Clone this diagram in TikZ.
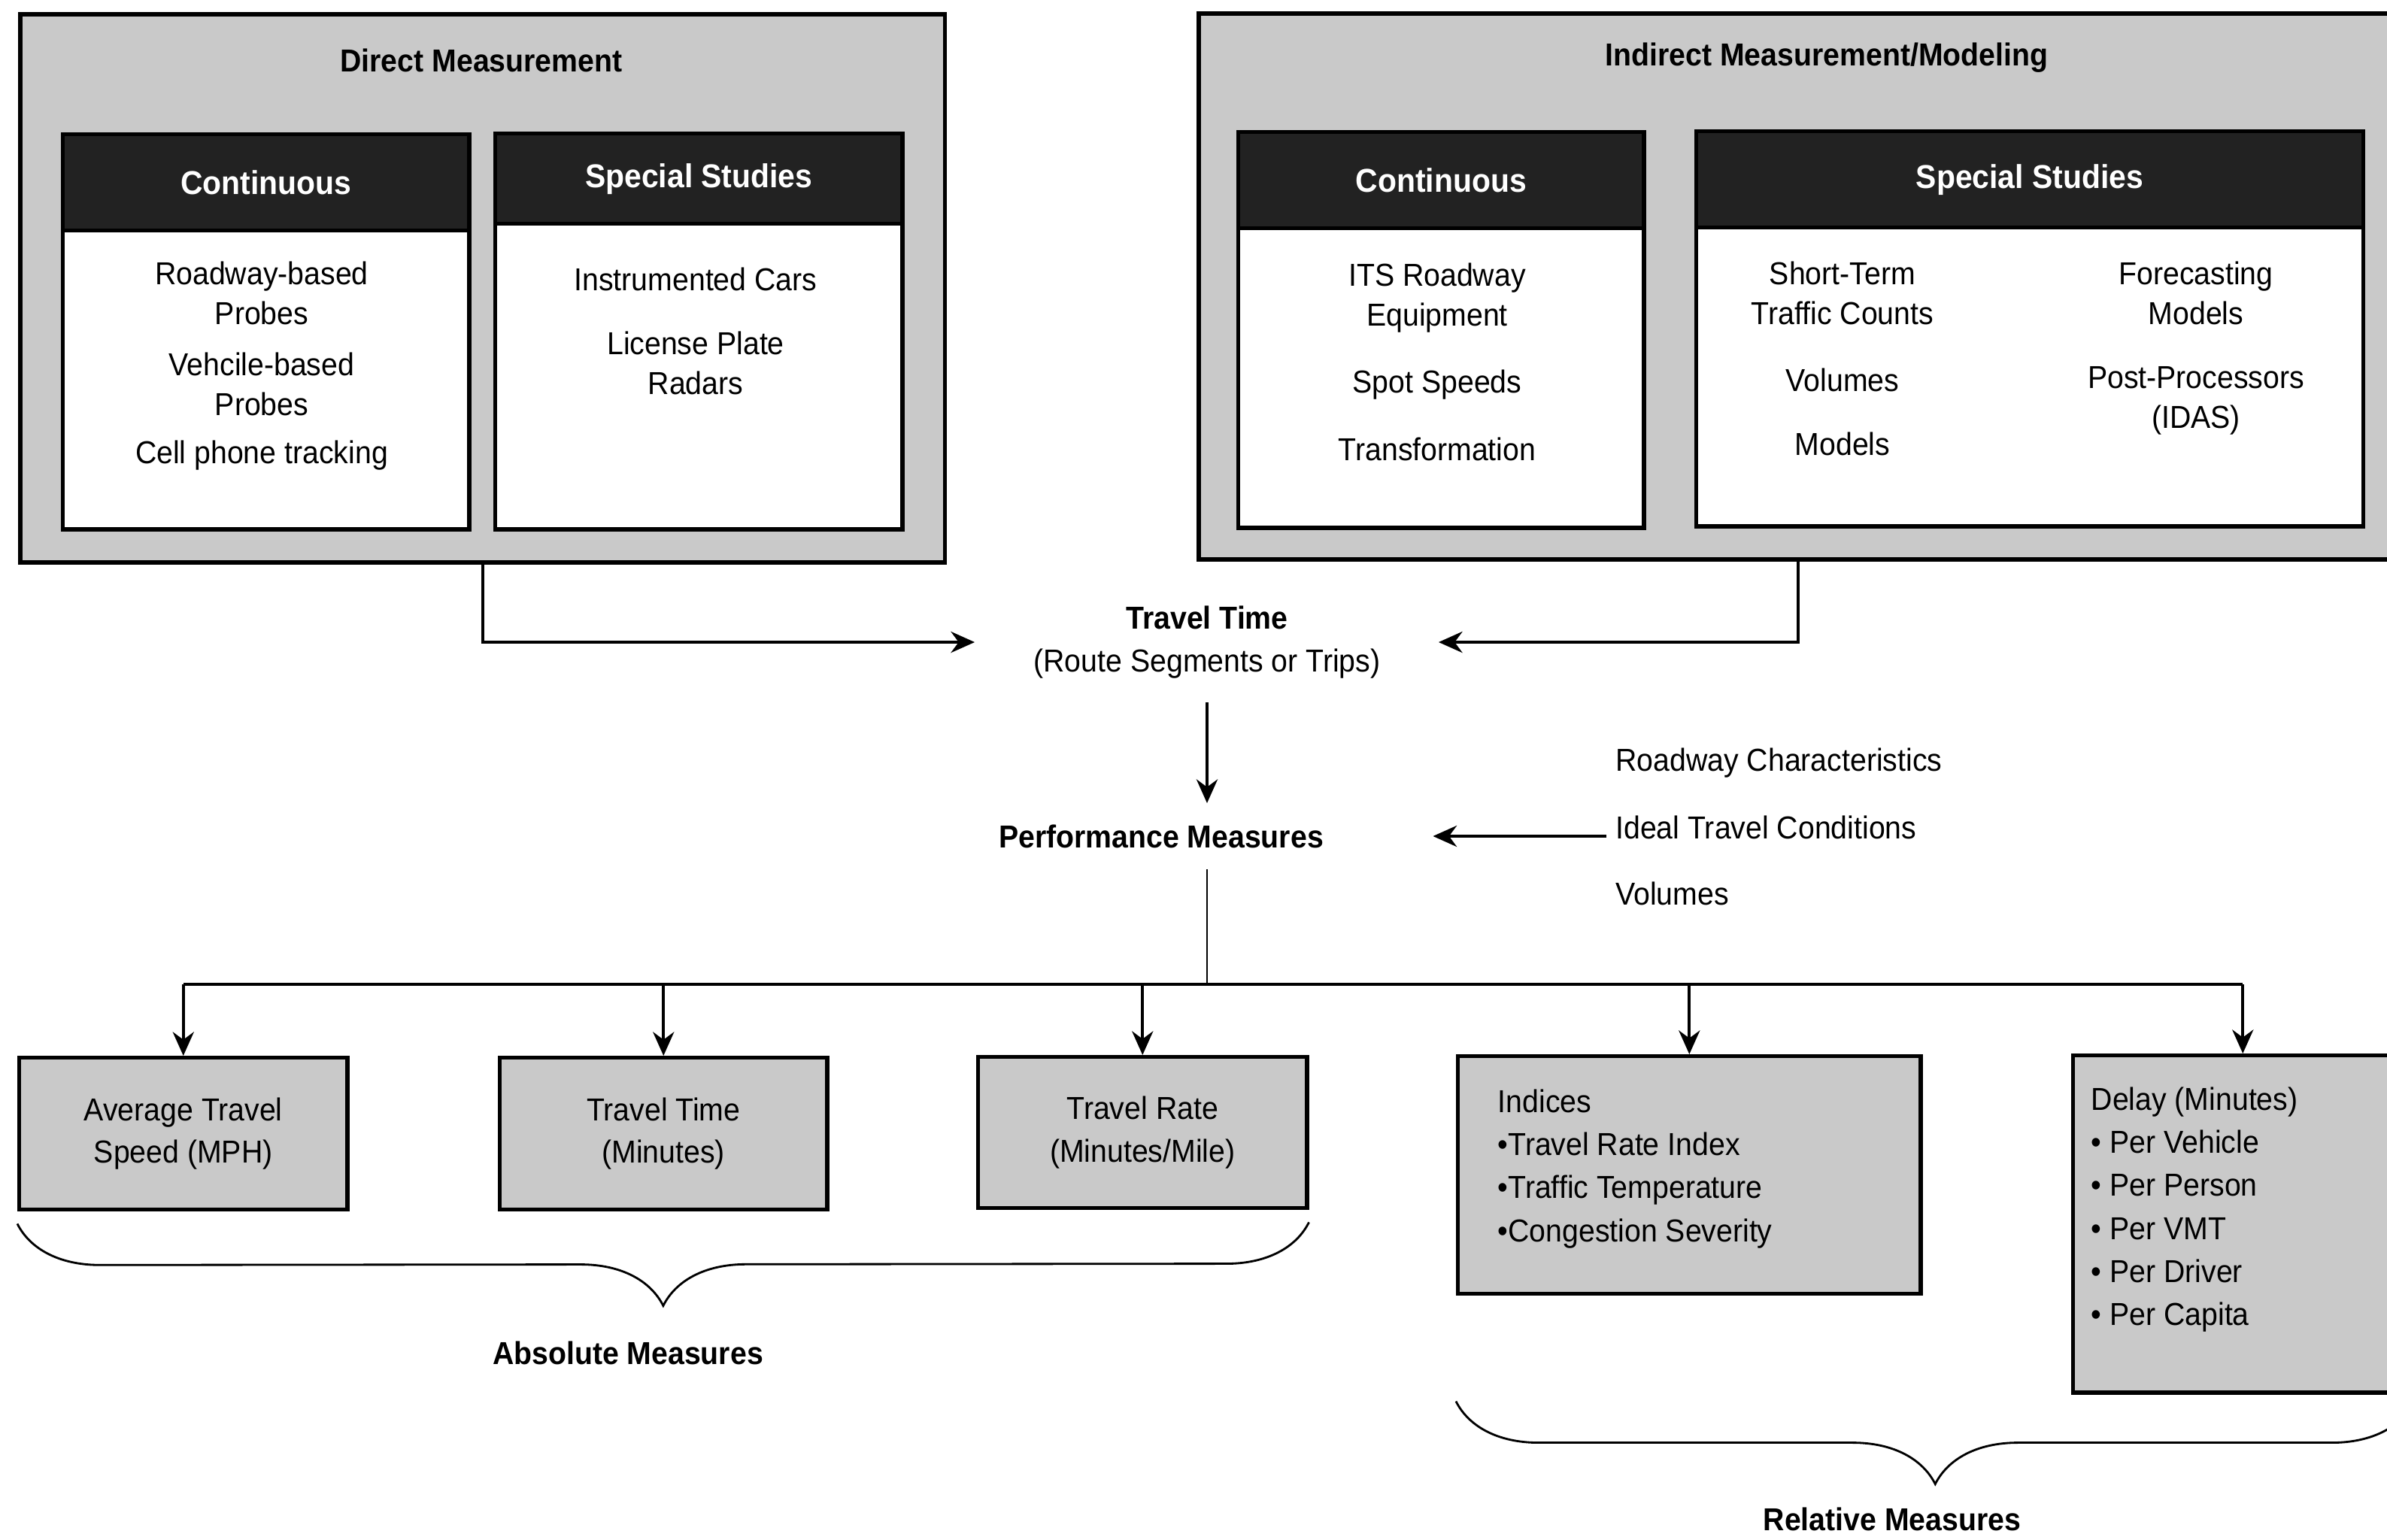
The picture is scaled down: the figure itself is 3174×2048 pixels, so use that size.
\documentclass[tikz,border=0pt]{standalone}
\usepackage{fontspec}
\setmainfont[FakeStretch=0.93]{Liberation Sans}
\definecolor{BoxGray}{HTML}{C9C9C9}
\definecolor{HeadBlack}{HTML}{222222}
\usetikzlibrary{arrows.meta, positioning, decorations.pathreplacing}

\begin{document}
\begin{tikzpicture}[
  x=0.01cm, y=-0.01cm,
  groupbox/.style={rectangle, draw, line width=1.6pt, fill=BoxGray, anchor=north west, inner sep=0pt},
  panel/.style={rectangle, draw, line width=1.5pt, fill=white, anchor=north west, inner sep=0pt},
  headbar/.style={rectangle, draw, line width=1.5pt, fill=HeadBlack, text=white, anchor=north,
    inner sep=0pt, font=\fontsize{12.5}{15}\selectfont\bfseries},
  entry/.style={align=center, font=\fontsize{12}{15}\selectfont},
  heading/.style={font=\fontsize{12}{15}\selectfont\bfseries},
  measure/.style={rectangle, draw, line width=1.5pt, fill=BoxGray, anchor=north west,
    inner sep=0pt, align=center, font=\fontsize{12}{16}\selectfont},
  bullets/.style={anchor=north west, align=left, inner sep=0pt, font=\fontsize{12}{16.3}\selectfont},
  link/.style={line width=1.1pt},
  curly/.style={decorate, decoration={brace, amplitude=1.1cm}, line width=0.8pt},
  >={Stealth[length=9pt, width=8pt]}
]
  \useasboundingbox (0,0) rectangle (3174,2048);
  \clip (0,0) rectangle (3174,2048);

  \node[groupbox, minimum width=12.29cm, minimum height=7.29cm] (direct) at (24,16) {};
  \node[heading] (directT) at (640,80) {Direct Measurement};
  \node[panel, minimum width=5.40cm, minimum height=5.25cm] (dcont) at (81,176) {};
  \node[headbar, minimum width=5.40cm, minimum height=1.28cm] (dcontH) at (dcont.north) {Continuous};
  \node[entry] (dc1) at (348,390) {Roadway-based\\Probes};
  \node[entry] (dc2) at (348,511) {Vehcile-based\\Probes};
  \node[entry] (dc3) at (348,606) {Cell phone tracking};
  \node[panel, minimum width=5.41cm, minimum height=5.26cm] (dspec) at (656,175) {};
  \node[headbar, minimum width=5.41cm, minimum height=1.20cm] (dspecH) at (dspec.north) {Special Studies};
  \node[entry] (ds1) at (925,371) {Instrumented Cars};
  \node[entry] (ds2) at (925,483) {License Plate\\Radars};

  \node[groupbox, minimum width=16.5cm, minimum height=7.26cm] (indirect) at (1591,15) {};
  \node[heading] (indirectT) at (2429,77) {Indirect Measurement/Modeling};
  \node[panel, minimum width=5.39cm, minimum height=5.26cm] (icont) at (1644,173) {};
  \node[headbar, minimum width=5.39cm, minimum height=1.28cm] (icontH) at (icont.north) {Continuous};
  \node[entry] (ic1) at (1911,396) {ITS Roadway\\Equipment};
  \node[entry] (ic2) at (1911,512) {Spot Speeds};
  \node[entry] (ic3) at (1911,597) {Transformation};
  \node[panel, minimum width=8.86cm, minimum height=5.25cm] (ispec) at (2253,172) {};
  \node[headbar, minimum width=8.86cm, minimum height=1.28cm] (ispecH) at (ispec.north) {Special Studies};
  \node[entry] (is1) at (2450,390) {Short-Term\\Traffic Counts};
  \node[entry] (is2) at (2450,505) {Volumes};
  \node[entry] (is3) at (2450,590) {Models};
  \node[entry] (is4) at (2920,390) {Forecasting\\Models};
  \node[entry] (is5) at (2920,533) {Post-Processors\\(IDAS)};

  \node[entry, font=\fontsize{12}{16}\selectfont] (tt) at (1605,854) {\textbf{Travel Time}\\(Route Segments or Trips)};
  \node[heading] (pm) at (1544,1112) {Performance Measures};
  \node[entry, anchor=west] (rc) at (2136,1015) {Roadway Characteristics};
  \node[entry, anchor=west] (itc) at (2136,1100) {Ideal Travel Conditions};
  \node[entry, anchor=west] (vol) at (2136,1188) {Volumes};

  \node[measure, minimum width=4.36cm, minimum height=2.02cm] (avg) at (23,1404) {Average Travel\\Speed (MPH)};
  \node[measure, minimum width=4.35cm, minimum height=2.02cm] (ttm) at (662,1404) {Travel Time\\(Minutes)};
  \node[measure, minimum width=4.37cm, minimum height=2.01cm] (rate) at (1298,1403) {Travel Rate\\(Minutes/Mile)};
  \node[measure, minimum width=6.15cm, minimum height=3.16cm] (idx) at (1936,1402) {};
  \node[bullets] (idxT) at ([shift={(0.55cm,-0.46cm)}]idx.north west)
    {Indices\\•Travel Rate Index\\•Traffic Temperature\\•Congestion Severity};
  \node[measure, minimum width=4.51cm, minimum height=4.48cm] (delay) at (2754,1401) {};
  \node[bullets] (delayT) at ([shift={(0.26cm,-0.44cm)}]delay.north west)
    {Delay (Minutes)\\• Per Vehicle\\• Per Person\\• Per VMT\\• Per Driver\\• Per Capita};

  \coordinate (iout) at (2391,741);
  \coordinate (bus) at ([yshift=0.95cm]avg.north);
  \coordinate (relL) at (delay.south -| idx.west);
  \draw[link, ->, shorten >=0.66cm] (direct.south) |- (tt.west);
  \draw[link, ->, shorten >=0.65cm] (iout) |- (tt.east);
  \draw[link, ->, shorten <=0.2cm, shorten >=0.16cm] (tt.south) -- (tt.south |- pm.north);
  \draw[link, ->, shorten >=1.33cm] (itc.west |- pm.east) -- (pm.east);
  \draw[line width=0.6pt] ([yshift=-0.16cm]pm.south -| tt.south) -- (tt.south |- bus);
  \draw[link] (avg.north |- bus) -- (delay.north |- bus);
  \foreach \m in {avg, ttm, rate, idx, delay}
    \draw[link, ->] (\m.north |- bus) -- (\m.north);

  \draw[curly] ([yshift=-0.16cm]rate.south east) -- ([yshift=-0.16cm]avg.south west);
  \draw[curly] ([yshift=-0.09cm]delay.south east) -- ([yshift=-0.09cm]relL);
  \node[heading] (absM) at (835,1799) {Absolute Measures};
  \node[heading] (relM) at (2516,2020) {Relative Measures};
\end{tikzpicture}
\end{document}
